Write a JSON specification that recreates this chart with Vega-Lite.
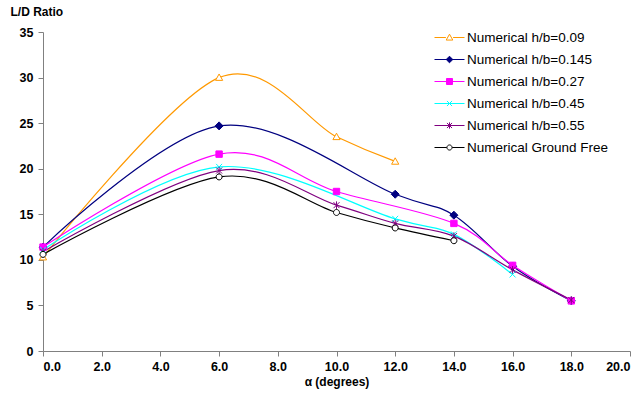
{
  "$schema": "https://vega.github.io/schema/vega-lite/v6.json",
  "width": 587,
  "height": 319,
  "autosize": {"type": "none"},
  "padding": {"left": 43, "top": 32, "right": 14, "bottom": 48},
  "background": "white",
  "config": {
    "view": {"stroke": null},
    "axis": {"grid": false, "domainColor": "#808080", "tickColor": "#808080", "labelFont": "Liberation Sans", "labelFontWeight": "bold", "labelFontSize": 12.5, "labelColor": "black", "titleFont": "Liberation Sans", "titleFontWeight": "bold", "titleFontSize": 12, "titleColor": "black"}
  },
  "data": {"values": [
    {"series": "Numerical h/b=0.09", "alpha": 0, "ld": 10.3},
    {"series": "Numerical h/b=0.09", "alpha": 6, "ld": 30.0},
    {"series": "Numerical h/b=0.09", "alpha": 10, "ld": 23.5},
    {"series": "Numerical h/b=0.09", "alpha": 12, "ld": 20.8},
    {"series": "Numerical h/b=0.145", "alpha": 0, "ld": 11.4},
    {"series": "Numerical h/b=0.145", "alpha": 6, "ld": 24.7},
    {"series": "Numerical h/b=0.145", "alpha": 12, "ld": 17.2},
    {"series": "Numerical h/b=0.145", "alpha": 14, "ld": 14.9},
    {"series": "Numerical h/b=0.145", "alpha": 16, "ld": 9.3},
    {"series": "Numerical h/b=0.145", "alpha": 18, "ld": 5.5},
    {"series": "Numerical h/b=0.27", "alpha": 0, "ld": 11.4},
    {"series": "Numerical h/b=0.27", "alpha": 6, "ld": 21.6},
    {"series": "Numerical h/b=0.27", "alpha": 10, "ld": 17.5},
    {"series": "Numerical h/b=0.27", "alpha": 14, "ld": 14.0},
    {"series": "Numerical h/b=0.27", "alpha": 16, "ld": 9.4},
    {"series": "Numerical h/b=0.27", "alpha": 18, "ld": 5.5},
    {"series": "Numerical h/b=0.45", "alpha": 0, "ld": 11.1},
    {"series": "Numerical h/b=0.45", "alpha": 6, "ld": 20.2},
    {"series": "Numerical h/b=0.45", "alpha": 12, "ld": 14.5},
    {"series": "Numerical h/b=0.45", "alpha": 14, "ld": 12.8},
    {"series": "Numerical h/b=0.45", "alpha": 16, "ld": 8.4},
    {"series": "Numerical h/b=0.55", "alpha": 0, "ld": 10.9},
    {"series": "Numerical h/b=0.55", "alpha": 6, "ld": 19.8},
    {"series": "Numerical h/b=0.55", "alpha": 10, "ld": 16.0},
    {"series": "Numerical h/b=0.55", "alpha": 12, "ld": 14.0},
    {"series": "Numerical h/b=0.55", "alpha": 14, "ld": 12.6},
    {"series": "Numerical h/b=0.55", "alpha": 16, "ld": 8.9},
    {"series": "Numerical h/b=0.55", "alpha": 18, "ld": 5.6},
    {"series": "Numerical Ground Free", "alpha": 0, "ld": 10.6},
    {"series": "Numerical Ground Free", "alpha": 6, "ld": 19.1},
    {"series": "Numerical Ground Free", "alpha": 10, "ld": 15.2},
    {"series": "Numerical Ground Free", "alpha": 12, "ld": 13.5},
    {"series": "Numerical Ground Free", "alpha": 14, "ld": 12.1}
  ]},
  "encoding": {
    "x": {"field": "alpha", "type": "quantitative", "scale": {"domain": [0, 20], "nice": false},
      "axis": {"values": [0, 2, 4, 6, 8, 10, 12, 14, 16, 18, 20], "format": ".1f", "title": "α (degrees)", "tickSize": 5, "labelPadding": 4, "titlePadding": 4}},
    "y": {"field": "ld", "type": "quantitative", "scale": {"domain": [0, 35], "nice": false},
      "axis": {"values": [0, 5, 10, 15, 20, 25, 30, 35], "title": "L/D Ratio", "tickSize": 5, "labelPadding": 5, "titleAngle": 0, "titleAlign": "left", "titleBaseline": "bottom", "titleX": -33, "titleY": -14}},
    "stroke": {"field": "series", "type": "nominal",
      "scale": {"domain": ["Numerical h/b=0.09", "Numerical h/b=0.145", "Numerical h/b=0.27", "Numerical h/b=0.45", "Numerical h/b=0.55", "Numerical Ground Free"],
        "range": ["#FF9900", "#000080", "#FF00FF", "#00FFFF", "#800080", "#000000"]},
      "legend": {
        "title": null, "orient": "none", "legendX": 391, "legendY": -10, "padding": 0,
        "labelFont": "Liberation Sans", "labelFontSize": 13.5, "labelColor": "black", "labelOffset": 2,
        "rowPadding": -3, "symbolSize": 900,
        "encode": {"symbols": {"update": {
          "shape": {"signal": "['M-1,0H-0.24M0.24,0H1M0,-0.22L0.22,0.17L-0.22,0.17Z','M-1,0H1M0,-0.22L0.22,0L0,0.22L-0.22,0Z','M-1,0H1M-0.2,-0.2H0.2V0.2H-0.2Z','M-1,0H1M-0.17,-0.17L0.17,0.17M-0.17,0.17L0.17,-0.17','M-1,0H1M-0.17,-0.17L0.17,0.17M-0.17,0.17L0.17,-0.17M0,-0.21V0.21','M-1,0H-0.18M0.18,0H1M-0.17,0A0.17,0.17 0 1,0 0.17,0A0.17,0.17 0 1,0 -0.17,0Z'][datum.index]"},
          "size": {"value": 900},
          "stroke": {"signal": "['#FF9900','#000080','#FF00FF','#00FFFF','#800080','#000000'][datum.index]"},
          "fill": {"signal": "['white','#000080','#FF00FF','transparent','transparent','white'][datum.index]"},
          "strokeWidth": {"value": 1},
          "opacity": {"value": 1}
        }}}
      }}
  },
  "layer": [
    {"mark": {"type": "line", "interpolate": "cardinal", "strokeWidth": 1.2}},
    {"transform": [{"filter": "datum.series === 'Numerical h/b=0.09'"}],
     "mark": {"type": "point", "size": 64, "strokeWidth": 1, "opacity": 1, "filled": false, "fill": "white", "shape": "M0,-0.9L0.9,0.7L-0.9,0.7Z"}},
    {"transform": [{"filter": "datum.series === 'Numerical h/b=0.145'"}],
     "mark": {"type": "point", "size": 64, "strokeWidth": 1, "opacity": 1, "filled": false, "fill": "#000080", "shape": "M0,-1L1,0L0,1L-1,0Z"}},
    {"transform": [{"filter": "datum.series === 'Numerical h/b=0.27'"}],
     "mark": {"type": "point", "size": 64, "strokeWidth": 1, "opacity": 1, "filled": false, "fill": "#FF00FF", "shape": "M-0.8,-0.8H0.8V0.8H-0.8Z"}},
    {"transform": [{"filter": "datum.series === 'Numerical h/b=0.45'"}],
     "mark": {"type": "point", "size": 64, "strokeWidth": 1, "opacity": 1, "filled": false, "fill": "transparent", "shape": "M-0.75,-0.75L0.75,0.75M-0.75,0.75L0.75,-0.75"}},
    {"transform": [{"filter": "datum.series === 'Numerical h/b=0.55'"}],
     "mark": {"type": "point", "size": 64, "strokeWidth": 1, "opacity": 1, "filled": false, "fill": "transparent", "shape": "M-0.75,-0.75L0.75,0.75M-0.75,0.75L0.75,-0.75M0,-0.95V0.95"}},
    {"transform": [{"filter": "datum.series === 'Numerical Ground Free'"}],
     "mark": {"type": "point", "size": 64, "strokeWidth": 1, "opacity": 1, "filled": false, "fill": "white", "shape": "M-0.75,0A0.75,0.75 0 1,0 0.75,0A0.75,0.75 0 1,0 -0.75,0Z"}}
  ]
}
